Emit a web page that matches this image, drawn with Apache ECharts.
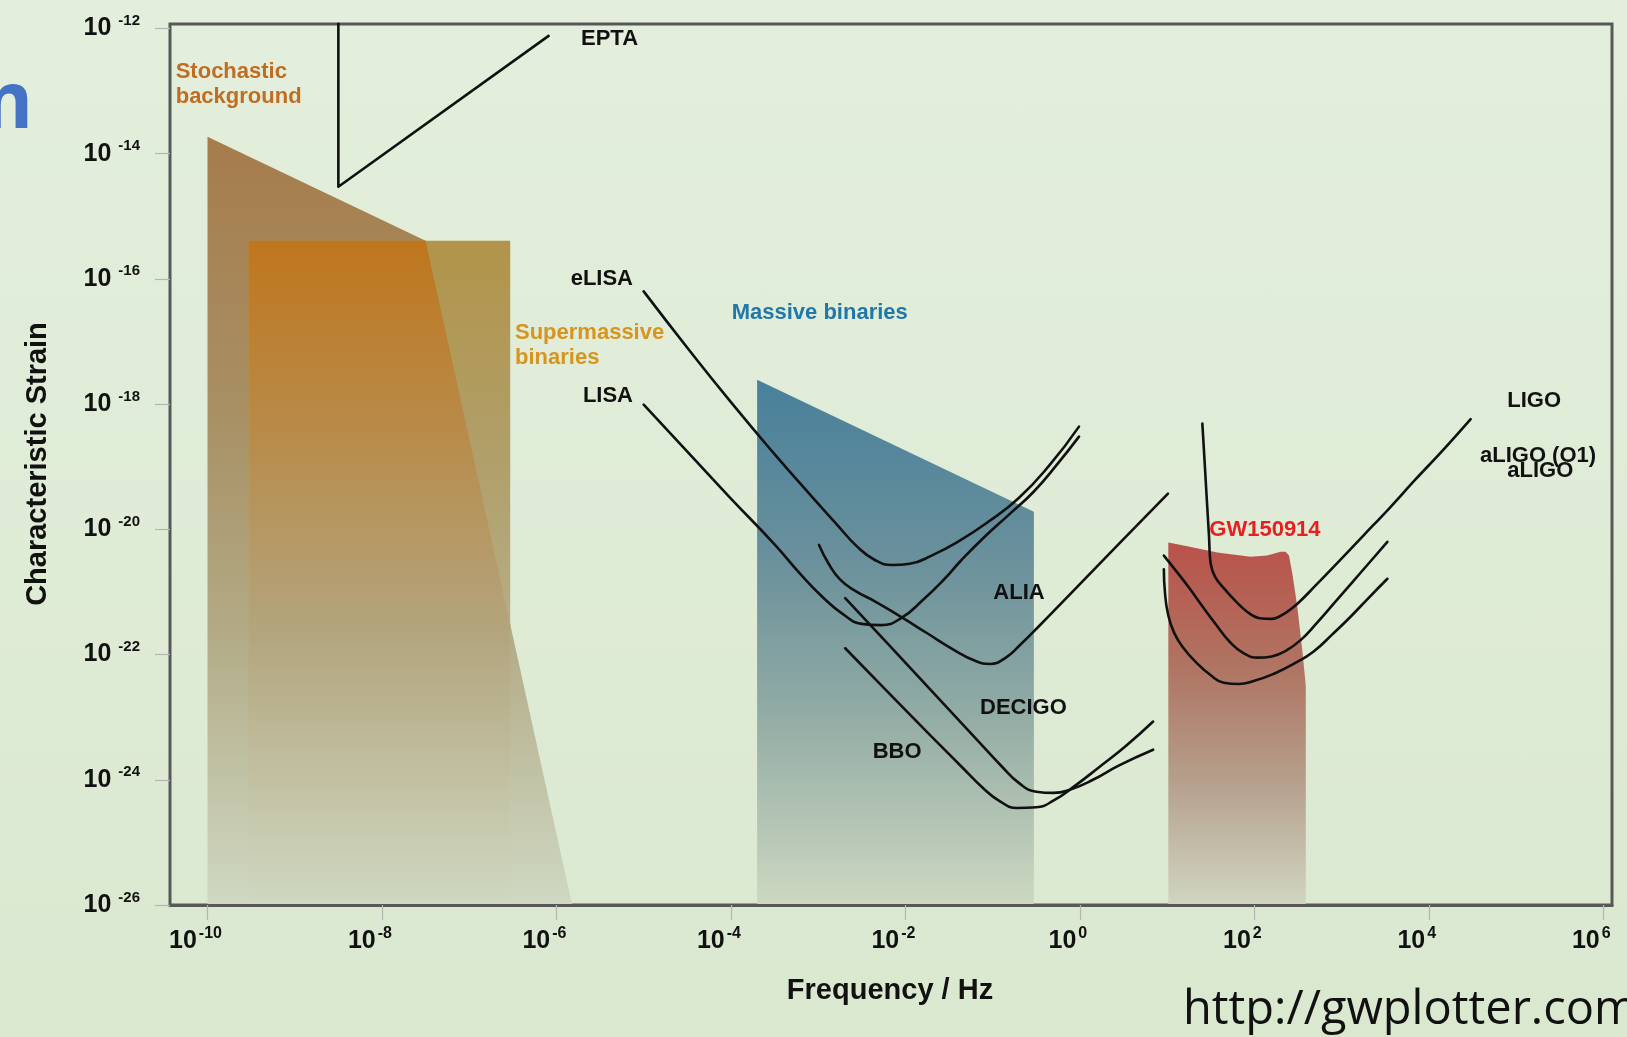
<!DOCTYPE html>
<html>
<head>
<meta charset="utf-8">
<title>Gravitational wave sensitivity curves</title>
<script src="https://cdn.jsdelivr.net/npm/echarts@6/dist/echarts.min.js"></script>
<style>
  html, body { margin: 0; padding: 0; width: 1627px; height: 1037px; overflow: hidden;
    background: linear-gradient(#e3efdc, #dbe8d0); }
  #chart { width: 1627px; height: 1037px; }
</style>
</head>
<body>
<div id="chart"></div>
<script>
// All values are log10: x = log10(frequency / Hz), y = log10(characteristic strain)
const freqTicks = [-10, -8, -6, -4, -2, 0, 2, 4, 6];
const strainTicks = [-26, -24, -22, -20, -18, -16, -14, -12];

// Source populations (filled regions)
const stochasticBackground = [[-10.0, -13.73], [-7.5, -15.39], [-5.82, -26], [-10.0, -26]];
const supermassiveBinaries = [[-9.53, -15.39], [-6.53, -15.39], [-6.53, -26], [-9.53, -26]];
const massiveBinaries = [[-3.70, -17.61], [-0.527, -19.72], [-0.527, -26], [-3.70, -26]];
const gw150914 = [[1.014, -20.21], [1.231, -20.27], [1.575, -20.37], [1.957, -20.44], [2.148, -20.42],
  [2.30, -20.36], [2.358, -20.36], [2.397, -20.42], [2.435, -20.70], [2.492, -21.23], [2.55, -21.93],
  [2.59, -22.50], [2.59, -26], [1.014, -26]];

// Detector sensitivity curves
const epta = [[-8.5, -11.0], [-8.5, -14.53], [-6.09, -12.12]];
const elisa = [[-5.0, -16.20], [-4.5, -17.10], [-4.0, -17.97], [-3.5, -18.80], [-3.09, -19.45],
  [-2.80, -19.90], [-2.55, -20.28], [-2.35, -20.49], [-2.15, -20.57], [-1.95, -20.55], [-1.70, -20.42],
  [-1.40, -20.20], [-1.05, -19.88], [-0.70, -19.50], [-0.35, -18.98], [-0.01, -18.36]];
const lisa = [[-5.0, -18.01], [-4.5, -18.76], [-4.0, -19.51], [-3.5, -20.24], [-3.2, -20.72],
  [-2.95, -21.08], [-2.72, -21.35], [-2.50, -21.51], [-2.28, -21.53], [-2.05, -21.42], [-1.80, -21.13],
  [-1.55, -20.79], [-1.37, -20.51], [-1.10, -20.13], [-0.80, -19.75], [-0.53, -19.40], [-0.27, -18.98],
  [-0.01, -18.52]];
const alia = [[-2.99, -20.25], [-2.88, -20.55], [-2.75, -20.80], [-2.58, -20.98], [-2.35, -21.15],
  [-2.05, -21.40], [-1.75, -21.66], [-1.45, -21.92], [-1.20, -22.10], [-1.03, -22.15], [-0.86, -22.06],
  [-0.68, -21.84], [-0.45, -21.52], [-0.15, -21.09], [0.15, -20.66], [0.45, -20.23], [0.73, -19.83],
  [1.01, -19.43]];
const decigo = [[-2.69, -21.10], [-2.2, -21.83], [-1.7, -22.58], [-1.2, -23.33], [-0.90, -23.78],
  [-0.70, -24.05], [-0.50, -24.19], [-0.30, -24.21], [-0.10, -24.15], [0.15, -24.00], [0.45, -23.77],
  [0.84, -23.52]];
const bbo = [[-2.69, -21.90], [-2.2, -22.60], [-1.7, -23.31], [-1.35, -23.80], [-1.12, -24.12],
  [-0.92, -24.34], [-0.72, -24.45], [-0.50, -24.44], [-0.30, -24.33], [-0.05, -24.09], [0.22, -23.80],
  [0.52, -23.47], [0.84, -23.07]];
const ligo = [[1.404, -18.31], [1.43, -18.92], [1.455, -19.52], [1.48, -20.10], [1.50, -20.55],
  [1.55, -20.76], [1.65, -20.94], [1.78, -21.14], [1.92, -21.32], [2.06, -21.42], [2.20, -21.43],
  [2.34, -21.35], [2.50, -21.18], [2.70, -20.90], [2.95, -20.54], [3.25, -20.10], [3.55, -19.66],
  [3.85, -19.20], [4.16, -18.74], [4.48, -18.24]];
const aligoO1 = [[0.963, -20.42], [1.10, -20.66], [1.25, -20.93], [1.40, -21.22], [1.56, -21.52],
  [1.72, -21.80], [1.88, -21.98], [2.04, -22.05], [2.20, -22.03], [2.36, -21.94], [2.53, -21.77],
  [2.72, -21.49], [2.92, -21.17], [3.12, -20.85], [3.32, -20.53], [3.525, -20.20]];
const aligo = [[0.963, -20.64], [0.975, -21.00], [1.01, -21.35], [1.08, -21.65], [1.19, -21.90],
  [1.33, -22.12], [1.49, -22.32], [1.65, -22.45], [1.82, -22.47], [2.00, -22.42], [2.22, -22.31],
  [2.45, -22.15], [2.68, -21.95], [2.90, -21.67], [3.10, -21.40], [3.30, -21.11], [3.525, -20.79]];

// Part of the supermassive-binary box that lies inside the stochastic background wedge
function clipConvex(subject, clip) {
  let area = 0;
  clip.forEach((p, i) => { const q = clip[(i + 1) % clip.length]; area += p[0] * q[1] - q[0] * p[1]; });
  const sgn = area > 0 ? 1 : -1;
  const inside = (p, a, b) => sgn * ((b[0] - a[0]) * (p[1] - a[1]) - (b[1] - a[1]) * (p[0] - a[0])) >= -1e-9;
  const meet = (p1, p2, a, b) => {
    const d1 = [p2[0] - p1[0], p2[1] - p1[1]], d2 = [b[0] - a[0], b[1] - a[1]];
    const den = d1[0] * d2[1] - d1[1] * d2[0];
    const t = ((a[0] - p1[0]) * d2[1] - (a[1] - p1[1]) * d2[0]) / den;
    return [p1[0] + t * d1[0], p1[1] + t * d1[1]];
  };
  let out = subject;
  for (let i = 0; i < clip.length; i++) {
    const a = clip[i], b = clip[(i + 1) % clip.length];
    const inp = out; out = [];
    for (let j = 0; j < inp.length; j++) {
      const cur = inp[j], prev = inp[(j + inp.length - 1) % inp.length];
      const ci = inside(cur, a, b), pi = inside(prev, a, b);
      if (ci) { if (!pi) out.push(meet(prev, cur, a, b)); out.push(cur); }
      else if (pi) out.push(meet(prev, cur, a, b));
    }
  }
  return out;
}
const overlapRegion = clipConvex(supermassiveBinaries, stochasticBackground);

const FONT = '"Liberation Sans", Arial, Helvetica, sans-serif';

function grad(stops) {
  return new echarts.graphic.LinearGradient(0, 0, 0, 1,
    stops.map(s => ({ offset: s[0], color: s[1] })));
}

function region(name, pts, stops) {
  return {
    type: 'custom', name: name, coordinateSystem: 'cartesian2d', silent: true, z: 1,
    data: [pts[0]],
    renderItem: function (params, api) {
      return {
        type: 'polygon',
        shape: { points: pts.map(p => api.coord(p)) },
        style: { fill: grad(stops), stroke: null }
      };
    }
  };
}

function curve(name, pts, smooth) {
  return {
    type: 'line', name: name, data: pts, symbol: 'none', showSymbol: false, silent: true,
    smooth: smooth, clip: true, z: 5,
    lineStyle: { color: '#111111', width: 2.6, cap: 'round', join: 'round' }
  };
}

function label(text, x, y, color, align) {
  return {
    type: 'text', x: x, y: y, z: 20, silent: true,
    style: { text: text, font: 'bold 22px ' + FONT, fill: color || '#111111',
      textAlign: align || 'left', textVerticalAlign: 'middle' }
  };
}

const chart = echarts.init(document.getElementById('chart'), null, { renderer: 'canvas' });

chart.setOption({
  animation: false,
  backgroundColor: 'transparent',
  grid: {
    left: 170, right: 15, top: 24, bottom: 132,
    show: true, borderColor: '#585858', borderWidth: 3, backgroundColor: 'transparent'
  },
  xAxis: {
    type: 'value', min: -10.43, max: 6.1, z: 10,
    splitLine: { show: false },
    axisLine: { show: true, onZero: false, lineStyle: { color: '#585858', width: 3 } },
    axisTick: { show: true, customValues: freqTicks, length: 15, lineStyle: { color: '#b4b4b4', width: 1.2 } },
    axisLabel: {
      customValues: freqTicks, margin: 21, padding: [0, 24, 0, 0],
      formatter: v => '{a|10}{b|' + Math.round(v) + '}',
      rich: {
        a: { fontFamily: FONT, fontWeight: 'bold', fontSize: 25, color: '#111', lineHeight: 30 },
        b: { fontFamily: FONT, fontWeight: 'bold', fontSize: 16, color: '#111', lineHeight: 14,
             verticalAlign: 'top', padding: [0, 0, 0, 2] }
      }
    }
  },
  yAxis: {
    type: 'value', min: -26, max: -11.93, z: 10,
    splitLine: { show: false },
    axisLine: { show: false, onZero: false },
    axisTick: { show: true, customValues: strainTicks, length: 15, lineStyle: { color: '#b4b4b4', width: 1.2 } },
    axisLabel: {
      customValues: strainTicks, margin: 30,
      formatter: v => '{a|10 }{b|' + Math.round(v) + '}',
      rich: {
        a: { fontFamily: FONT, fontWeight: 'bold', fontSize: 25, color: '#111', lineHeight: 30 },
        b: { fontFamily: FONT, fontWeight: 'bold', fontSize: 15, color: '#111', lineHeight: 12,
             verticalAlign: 'top' }
      }
    }
  },
  series: [
    region('Stochastic background', stochasticBackground,
      [[0, '#a67c4c'], [0.35, '#a88f63'], [0.65, '#b2ab86'], [1, '#cfd8c2']]),
    region('Supermassive binaries', supermassiveBinaries,
      [[0, '#b2944a'], [0.35, '#b0a06c'], [0.7, '#bab692'], [1, '#cfd8c1']]),
    region('Supermassive binaries (background overlap)', overlapRegion,
      [[0, '#bf761d'], [0.3, '#b88c4c'], [0.6, '#b3a67f'], [1, '#cfd8c1']]),
    region('Massive binaries', massiveBinaries,
      [[0, '#48809b'], [0.35, '#6b919c'], [0.65, '#94ada5'], [1, '#cdd8c1']]),
    region('GW150914', gw150914,
      [[0, '#b9524a'], [0.35, '#b07563'], [0.65, '#b59e8b'], [1, '#d0d6c1']]),
    curve('EPTA', epta, false),
    curve('eLISA', elisa, 0.5),
    curve('LISA', lisa, 0.5),
    curve('ALIA', alia, 0.5),
    curve('DECIGO', decigo, 0.5),
    curve('BBO', bbo, 0.5),
    curve('LIGO', ligo, 0.4),
    curve('aLIGO (O1)', aligoO1, 0.5),
    curve('aLIGO', aligo, 0.5)
  ],
  graphic: [
    // slide title fragment and credit line
    { type: 'text', x: 33, y: 106, z: 20, silent: true,
      style: { text: 'm', font: 'bold 78px "Open Sans", sans-serif', fill: '#4472c4',
        textAlign: 'right', textVerticalAlign: 'middle' } },
    { type: 'text', x: 1183, y: 1011, z: 20, silent: true,
      style: { text: 'http://gwplotter.com', font: '47px "Open Sans", sans-serif', fill: '#111111',
        textAlign: 'left', textVerticalAlign: 'middle' } },
    // axis titles
    { type: 'text', x: 37.5, y: 464, rotation: Math.PI / 2, z: 20, silent: true,
      style: { text: 'Characteristic Strain', font: 'bold 29px ' + FONT, fill: '#111111',
        textAlign: 'center', textVerticalAlign: 'middle' } },
    { type: 'text', x: 890, y: 991, z: 20, silent: true,
      style: { text: 'Frequency / Hz', font: 'bold 29px ' + FONT, fill: '#111111',
        textAlign: 'center', textVerticalAlign: 'middle' } },
    // region and curve labels
    label('Stochastic', 175.7, 71.5, '#c06d22'),
    label('background', 175.7, 96.5, '#c06d22'),
    label('Supermassive', 515, 332.5, '#d5951e'),
    label('binaries', 515, 358, '#d5951e'),
    label('Massive binaries', 731.7, 313, '#2277aa'),
    label('GW150914', 1209.3, 529.7, '#e62020'),
    label('EPTA', 581, 39),
    label('eLISA', 633, 279, null, 'right'),
    label('LISA', 633, 395.5, null, 'right'),
    label('ALIA', 993.3, 592.5),
    label('DECIGO', 980, 708),
    label('BBO', 872.7, 751.7),
    label('LIGO', 1507.3, 400.8),
    label('aLIGO (O1)', 1480, 455.5),
    label('aLIGO', 1507.3, 471.3)
  ]
});
</script>
</body>
</html>
